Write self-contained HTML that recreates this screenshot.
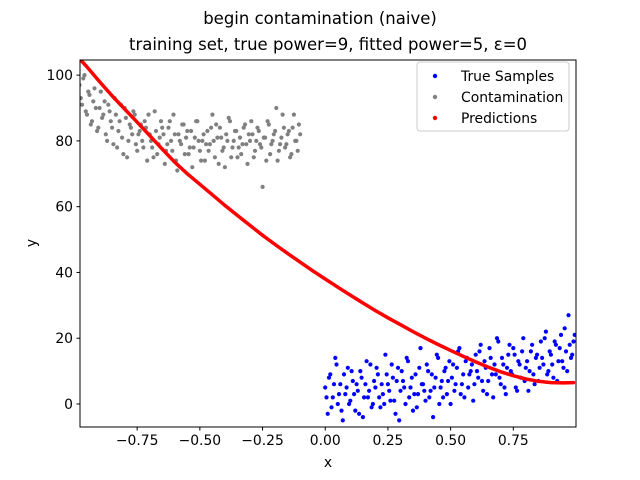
<!DOCTYPE html>
<html><head><meta charset="utf-8"><style>
body{margin:0;background:#fff;}
svg{display:block;font-family:"DejaVu Sans","Liberation Sans",sans-serif;}
</style></head><body>
<svg id="chart" width="640" height="480">
<text x="320" y="24" text-anchor="middle" font-size="16.5">begin contamination (naive)</text>
<text x="328" y="50" text-anchor="middle" font-size="16.5">training set, true power=9, fitted power=5, ε=0</text>
<g id="marks"></g>
<rect x="80" y="60" width="496" height="367" fill="none" stroke="#000" stroke-width="1"/>
<g id="axes"></g>
<text x="328" y="467" text-anchor="middle" font-size="13.9">x</text>
<text x="36" y="243" text-anchor="middle" font-size="13.9" transform="rotate(-90 36 243)">y</text>
<g>
<rect x="417" y="62" width="152" height="69" rx="3" fill="#fff" fill-opacity="0.8" stroke="#ccc"/>
<circle cx="435" cy="76" r="2.2" fill="#0000ff"/>
<text x="461" y="81" font-size="13.9">True Samples</text>
<circle cx="435" cy="97" r="2.2" fill="#808080"/>
<text x="461" y="102" font-size="13.9">Contamination</text>
<circle cx="435" cy="118" r="2.2" fill="#ff0000"/>
<text x="461" y="123" font-size="13.9">Predictions</text>
</g>
</svg>
<script>
const xTicks=[-0.75,-0.5,-0.25,0,0.25,0.5,0.75];
const xTickLabels=["−0.75","−0.50","−0.25","0.00","0.25","0.50","0.75"];
const yTicks=[0,20,40,60,80,100];
const yTickLabels=["0","20","40","60","80","100"];
const trueX=[0.00,0.01,0.02,0.03,0.04,0.05,0.06,0.07,0.08,0.09,0.10,0.11,0.12,0.13,0.14,0.15,0.16,0.17,0.18,0.19,0.20,0.21,0.22,0.23,0.24,0.25,0.26,0.27,0.28,0.29,0.30,0.31,0.32,0.33,0.34,0.35,0.36,0.37,0.38,0.39,0.40,0.41,0.42,0.43,0.44,0.45,0.46,0.47,0.48,0.49,0.50,0.51,0.52,0.53,0.54,0.55,0.56,0.57,0.58,0.59,0.60,0.61,0.62,0.63,0.64,0.65,0.66,0.67,0.68,0.69,0.70,0.71,0.72,0.73,0.74,0.75,0.76,0.77,0.78,0.79,0.80,0.81,0.82,0.83,0.84,0.85,0.86,0.87,0.88,0.89,0.90,0.91,0.92,0.93,0.94,0.95,0.96,0.97,0.98,0.99,
0.005,0.015,0.025,0.035,0.045,0.055,0.065,0.075,0.085,0.095,0.105,0.115,0.125,0.135,0.145,0.155,0.165,0.175,0.185,0.195,0.205,0.215,0.225,0.235,0.245,0.255,0.265,0.275,0.285,0.295,0.305,0.315,0.325,0.335,0.345,0.355,0.365,0.375,0.385,0.395,0.405,0.415,0.425,0.435,0.445,0.455,0.465,0.475,0.485,0.495,0.505,0.515,0.525,0.535,0.545,0.555,0.565,0.575,0.585,0.595,0.605,0.615,0.625,0.635,0.645,0.655,0.665,0.675,0.685,0.695,0.705,0.715,0.725,0.735,0.745,0.755,0.765,0.775,0.785,0.795,0.805,0.815,0.825,0.835,0.845,0.855,0.865,0.875,0.885,0.895,0.905,0.915,0.925,0.935,0.945,0.955,0.965,0.975,0.985,0.995];
const trueY=[5,-3,9,2,14,0,6,-5,3,11,1,7,-2,4,10,-4,6,2,12,0,5,9,-1,3,15,6,1,8,-3,11,4,7,0,13,5,-2,9,3,17,6,1,10,4,-4,8,14,5,2,11,7,0,12,6,16,3,9,13,5,10,1,15,8,18,4,11,7,14,2,9,19,6,12,3,15,10,17,5,13,8,20,11,4,16,9,14,7,19,12,22,10,15,8,18,13,21,11,16,27,14,19,
2,8,-1,6,12,3,-2,9,5,0,10,3,6,-3,8,2,13,4,-1,7,11,2,6,0,9,4,12,1,7,-5,10,5,14,2,8,3,-1,11,6,4,12,2,9,5,15,0,7,10,3,13,8,4,11,17,6,2,14,9,12,6,10,16,7,13,3,17,9,12,20,8,14,5,11,18,9,15,4,12,16,7,13,10,18,6,15,11,14,20,9,16,12,19,7,17,13,23,10,18,15,21];
const contX=[-0.98,-0.97,-0.96,-0.95,-0.94,-0.93,-0.92,-0.91,-0.90,-0.89,-0.88,-0.87,-0.86,-0.85,-0.84,-0.83,-0.82,-0.81,-0.80,-0.79,-0.78,-0.77,-0.76,-0.75,-0.74,-0.73,-0.72,-0.71,-0.70,-0.69,-0.68,-0.67,-0.66,-0.65,-0.64,-0.63,-0.62,-0.61,-0.60,-0.59,-0.58,-0.57,-0.56,-0.55,-0.54,-0.53,-0.52,-0.51,-0.50,-0.49,-0.48,-0.47,-0.46,-0.45,-0.44,-0.43,-0.42,-0.41,-0.40,-0.39,-0.38,-0.37,-0.36,-0.35,-0.34,-0.33,-0.32,-0.31,-0.30,-0.29,-0.28,-0.27,-0.26,-0.25,-0.24,-0.23,-0.22,-0.21,-0.20,-0.19,-0.18,-0.17,-0.16,-0.15,-0.14,-0.13,-0.12,-0.11,-0.10,
-0.975,-0.965,-0.955,-0.945,-0.935,-0.925,-0.915,-0.905,-0.895,-0.885,-0.875,-0.865,-0.855,-0.845,-0.835,-0.825,-0.815,-0.805,-0.795,-0.785,-0.775,-0.765,-0.755,-0.745,-0.735,-0.725,-0.715,-0.705,-0.695,-0.685,-0.675,-0.665,-0.655,-0.645,-0.635,-0.625,-0.615,-0.605,-0.595,-0.585,-0.575,-0.565,-0.555,-0.545,-0.535,-0.525,-0.515,-0.505,-0.495,-0.485,-0.475,-0.465,-0.455,-0.445,-0.435,-0.425,-0.415,-0.405,-0.395,-0.385,-0.375,-0.365,-0.355,-0.345,-0.335,-0.325,-0.315,-0.305,-0.295,-0.285,-0.275,-0.265,-0.255,-0.245,-0.235,-0.225,-0.215,-0.205,-0.195,-0.185,-0.175,-0.165,-0.155,-0.145,-0.135,-0.125,-0.115,-0.105];
const contY=[97,91,100,88,94,86,96,83,90,87,92,80,89,84,93,78,86,81,90,75,85,82,88,77,83,80,86,74,82,78,89,76,81,84,73,79,86,77,82,71,80,85,76,83,78,72,81,86,77,80,74,83,79,88,75,81,84,77,72,80,86,78,83,75,81,79,85,73,80,82,77,84,79,66,81,86,76,80,83,74,79,88,78,82,75,84,80,77,82,
93,99,89,95,85,92,90,84,95,88,82,91,86,79,88,83,91,76,87,80,84,89,79,82,85,78,84,88,80,75,83,79,86,82,77,84,80,88,74,82,79,85,81,76,83,78,86,80,74,82,79,77,84,80,85,73,81,78,82,87,75,80,83,78,76,84,79,82,86,75,80,83,78,81,74,85,79,82,90,77,81,84,79,83,76,88,80,85,90];
const predX=[-0.98,-0.95,-0.9,-0.85,-0.8,-0.75,-0.7,-0.65,-0.6,-0.55,-0.5,-0.45,-0.4,-0.35,-0.3,-0.25,-0.2,-0.15,-0.1,-0.05,0,0.05,0.1,0.15,0.2,0.25,0.3,0.35,0.4,0.45,0.5,0.55,0.6,0.65,0.7,0.75,0.8,0.85,0.9,0.95,0.99];
const predY=[105,102.5,98,93.7,89.7,85.7,81.6,77.5,73.5,70,66.8,63.6,60.4,57.3,54.3,51.3,48.5,45.8,43.1,40.5,38,35.5,33.1,30.7,28.4,26.2,24.1,22,20,18.1,16.3,14.5,12.8,11.2,9.8,8.6,7.6,6.9,6.5,6.4,6.5];

const NS="http://www.w3.org/2000/svg";
const X0=80,X1=576,Y0=60,Y1=427,xmin=-0.978,xmax=1.0,ymin=-7.0,ymax=104.6;
function sx(v){return X0+(v-xmin)/(xmax-xmin)*(X1-X0);}
function sy(v){return Y1-(v-ymin)/(ymax-ymin)*(Y1-Y0);}
const marks=document.getElementById('marks');
const axes=document.getElementById('axes');
const clip=document.createElementNS(NS,'clipPath');clip.setAttribute('id','pc');
const cr=document.createElementNS(NS,'rect');cr.setAttribute('x',X0);cr.setAttribute('y',Y0);cr.setAttribute('width',X1-X0);cr.setAttribute('height',Y1-Y0);
clip.appendChild(cr);marks.appendChild(clip);
marks.setAttribute('clip-path','url(#pc)');
function dots(xs,ys,color,name){
  const g=document.createElementNS(NS,'g');
  
  
  for(let i=0;i<xs.length;i++){
    const c=document.createElementNS(NS,'circle');
    c.setAttribute('cx',sx(xs[i]).toFixed(1));c.setAttribute('cy',sy(ys[i]).toFixed(1));
    c.setAttribute('r',2.1);c.setAttribute('fill',color);
    
    
    g.appendChild(c);
  }
  marks.appendChild(g);
}
dots(contX,contY,'#808080','contamination-series');
dots(trueX,trueY,'#0000ff','true-samples-series');
const pl=document.createElementNS(NS,'polyline');
pl.setAttribute('points',predX.map((x,i)=>sx(x).toFixed(1)+','+sy(predY[i]).toFixed(1)).join(' '));
pl.setAttribute('fill','none');pl.setAttribute('stroke','#ff0000');pl.setAttribute('stroke-width','3.5');pl.setAttribute('stroke-linecap','round');


marks.appendChild(pl);
xTicks.forEach((t,i)=>{
  const x=sx(t);
  const l=document.createElementNS(NS,'line');
  l.setAttribute('x1',x);l.setAttribute('x2',x);l.setAttribute('y1',Y1);l.setAttribute('y2',Y1+3.5);l.setAttribute('stroke','#000');
  
  
  axes.appendChild(l);
  const tx=document.createElementNS(NS,'text');
  tx.setAttribute('x',x);tx.setAttribute('y',Y1+18);tx.setAttribute('text-anchor','middle');tx.setAttribute('font-size','13.9');
  tx.textContent=xTickLabels[i];
  
  
  axes.appendChild(tx);
});
yTicks.forEach((t,i)=>{
  const y=sy(t);
  const l=document.createElementNS(NS,'line');
  l.setAttribute('x1',X0-3.5);l.setAttribute('x2',X0);l.setAttribute('y1',y);l.setAttribute('y2',y);l.setAttribute('stroke','#000');
  
  
  axes.appendChild(l);
  const tx=document.createElementNS(NS,'text');
  tx.setAttribute('x',X0-7);tx.setAttribute('y',y+5);tx.setAttribute('text-anchor','end');tx.setAttribute('font-size','13.9');
  tx.textContent=yTickLabels[i];
  
  
  axes.appendChild(tx);
});
</script>
</body></html>
